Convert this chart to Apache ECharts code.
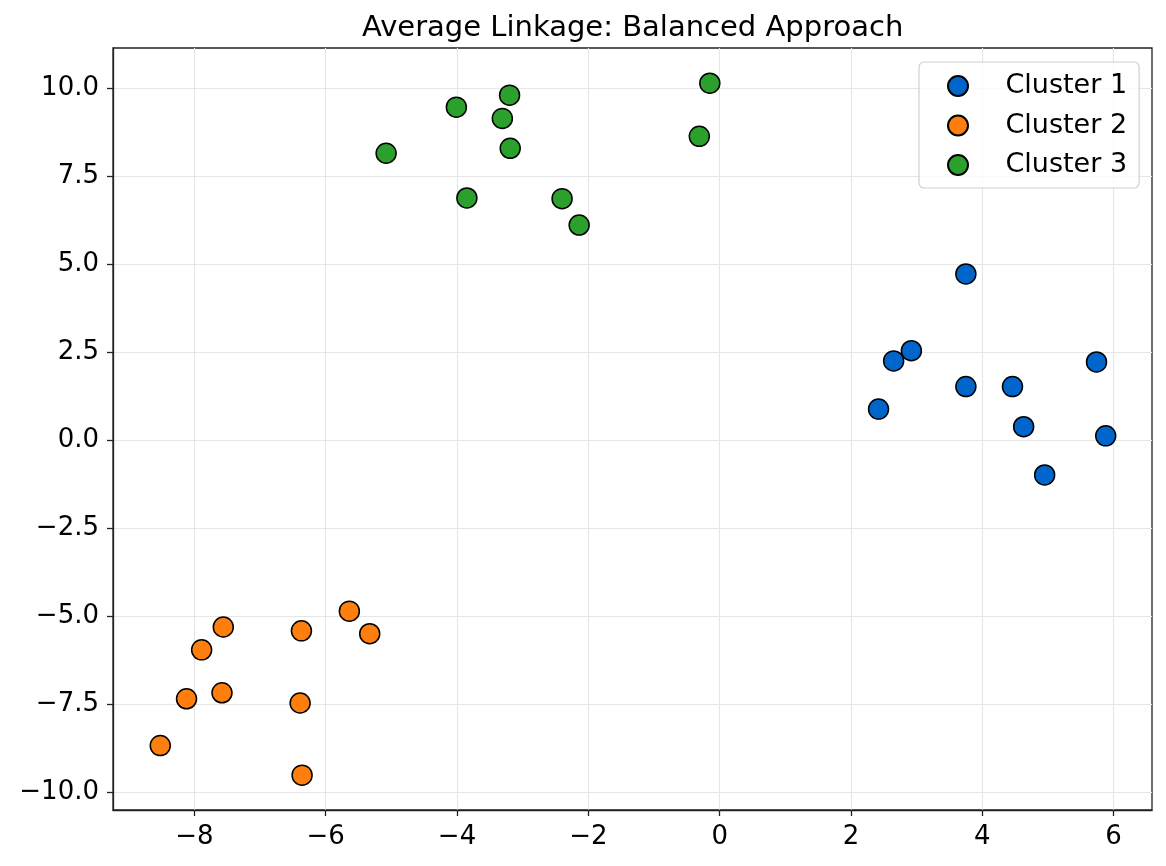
<!DOCTYPE html>
<html>
<head>
<meta charset="utf-8">
<script src="https://cdn.jsdelivr.net/npm/echarts@6/dist/echarts.min.js"></script>
<style>
html,body{margin:0;padding:0;background:#fff;}
#chart{width:1166px;height:866px;}
</style>
</head>
<body>
<div id="chart"></div>
<script>
var titleText = 'Average Linkage: Balanced Approach';
var seriesNames = ['Cluster 1', 'Cluster 2', 'Cluster 3'];
var seriesColors = ['#0066CC', '#FF7F0E', '#2CA02C'];

var cluster1X = [3.75, 2.92, 2.65, 2.42, 3.75, 4.46, 5.74, 4.63, 5.88, 4.95];
var cluster1Y = [4.73, 2.55, 2.26, 0.89, 1.53, 1.53, 2.23, 0.39, 0.13, -0.98];

var cluster2X = [-7.56, -7.89, -8.12, -7.58, -8.52, -6.37, -6.39, -6.36, -5.64, -5.33];
var cluster2Y = [-5.30, -5.95, -7.34, -7.17, -8.67, -5.41, -7.46, -9.51, -4.85, -5.49];

var cluster3X = [-0.15, -0.31, -3.20, -3.31, -3.19, -4.01, -5.08, -3.85, -2.40, -2.14];
var cluster3Y = [10.15, 8.64, 9.81, 9.15, 8.30, 9.47, 8.16, 6.89, 6.87, 6.12];

var xTicks = [-8, -6, -4, -2, 0, 2, 4, 6];
var yTicks = [-10, -7.5, -5, -2.5, 0, 2.5, 5, 7.5, 10];

function zip(xs, ys) { return xs.map(function (x, i) { return [x, ys[i]]; }); }
function fmtX(v) { var s = String(Math.round(v)); return s.replace('-', '\u2212'); }
function fmtY(v) { return v.toFixed(1).replace('-', '\u2212'); }

var font = 'DejaVu Sans';
var gridLine = { show: true, lineStyle: { color: '#e6e6e6', width: 1.2 } };

var chart = echarts.init(document.getElementById('chart'), null, { renderer: 'canvas' });
var data = [zip(cluster1X, cluster1Y), zip(cluster2X, cluster2Y), zip(cluster3X, cluster3Y)];

chart.setOption({
  animation: false,
  backgroundColor: '#ffffff',
  title: {
    text: titleText,
    left: 357,
    top: 9,
    textStyle: { fontFamily: font, fontSize: 29, fontWeight: 'normal', color: '#000' }
  },
  grid: {
    left: 113, right: 14, top: 48, bottom: 56,
    show: true, borderColor: '#222', borderWidth: 1.3, backgroundColor: 'transparent'
  },
  legend: {
    orient: 'vertical',
    left: 919,
    top: 62,
    padding: [10.5, 12, 9.5, 28],
    itemWidth: 85,
    itemHeight: 20,
    itemGap: 12.5,
    backgroundColor: 'rgba(255,255,255,0.8)',
    borderColor: '#d0d0d0',
    borderWidth: 1.2,
    borderRadius: 5,
    icon: 'circle',
    textStyle: { fontFamily: font, fontSize: 27, color: '#000' },
    data: seriesNames
  },
  xAxis: {
    type: 'value',
    min: -9.24,
    max: 6.585,
    axisLine: { show: true, onZero: false, lineStyle: { color: '#222', width: 1.3 } },
    axisTick: { show: true, length: 6, lineStyle: { color: '#222', width: 1.3 }, customValues: xTicks },
    axisLabel: { customValues: xTicks, formatter: fmtX, fontFamily: font, fontSize: 26, color: '#000', margin: 14 },
    splitLine: gridLine
  },
  yAxis: {
    type: 'value',
    min: -10.5,
    max: 11.15,
    axisLine: { show: true, onZero: false, lineStyle: { color: '#222', width: 1.3 } },
    axisTick: { show: true, length: 6, lineStyle: { color: '#222', width: 1.3 }, customValues: yTicks },
    axisLabel: { customValues: yTicks, formatter: fmtY, fontFamily: font, fontSize: 26, color: '#000', margin: 14 },
    splitLine: gridLine
  },
  series: seriesNames.map(function (name, i) {
    return {
      name: name,
      type: 'scatter',
      data: data[i],
      symbol: 'circle',
      symbolSize: 20,
      itemStyle: { color: seriesColors[i], borderColor: '#000', borderWidth: 1.5, opacity: 1 },
      emphasis: { disabled: true },
      z: 2 + i
    };
  })
});
</script>
</body>
</html>
